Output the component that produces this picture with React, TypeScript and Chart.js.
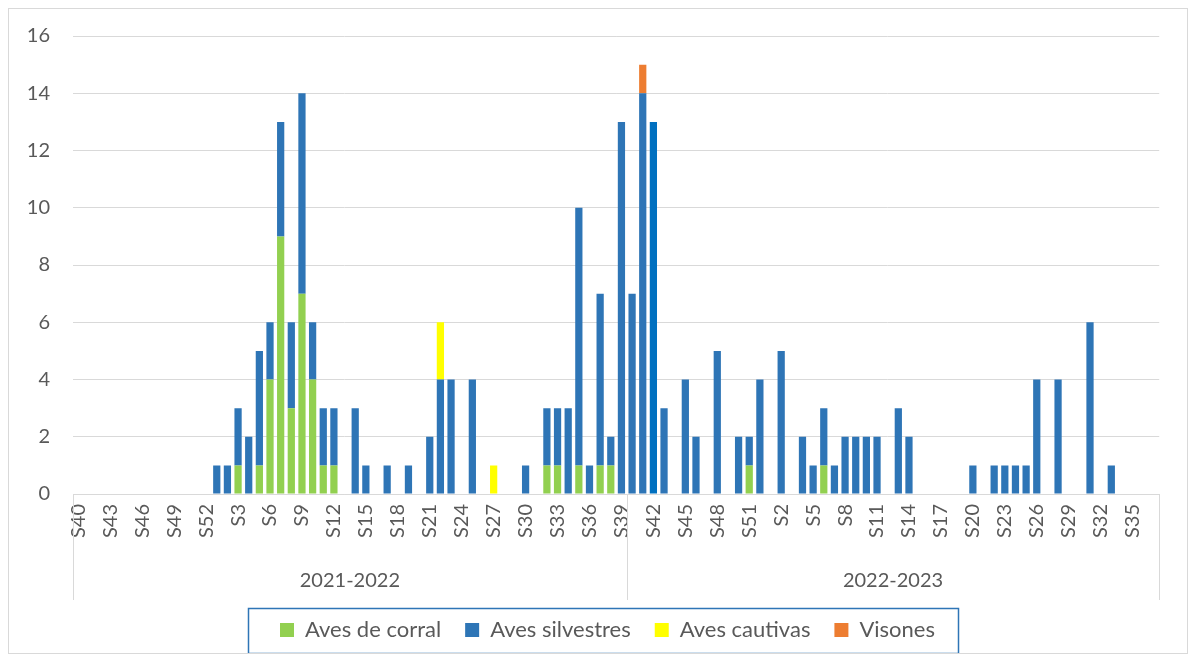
import React, { useEffect, useRef } from 'react';
import { Chart, registerables } from 'chart.js';

Chart.register(...registerables);

const seasons = ['2021-2022', '2022-2023'];

const weeks2122 = [
  'S40', 'S41', 'S42', 'S43', 'S44', 'S45', 'S46', 'S47', 'S48', 'S49', 'S50', 'S51', 'S52',
  'S1', 'S2', 'S3', 'S4', 'S5', 'S6', 'S7', 'S8', 'S9', 'S10', 'S11', 'S12', 'S13',
  'S14', 'S15', 'S16', 'S17', 'S18', 'S19', 'S20', 'S21', 'S22', 'S23', 'S24', 'S25', 'S26',
  'S27', 'S28', 'S29', 'S30', 'S31', 'S32', 'S33', 'S34', 'S35', 'S36', 'S37', 'S38', 'S39',
];
const weeks2223 = [
  'S40', 'S41', 'S42', 'S43', 'S44', 'S45', 'S46', 'S47', 'S48', 'S49', 'S50', 'S51', 'S52',
  'S1', 'S2', 'S3', 'S4', 'S5', 'S6', 'S7', 'S8', 'S9', 'S10', 'S11', 'S12', 'S13',
  'S14', 'S15', 'S16', 'S17', 'S18', 'S19', 'S20', 'S21', 'S22', 'S23', 'S24', 'S25', 'S26',
  'S27', 'S28', 'S29', 'S30', 'S31', 'S32', 'S33', 'S34', 'S35', 'S36', 'S37',
];
const categories = [...weeks2122, ...weeks2223];

// Aves de corral
const corral2122 = [
  0, 0, 0, 0, 0, 0, 0, 0, 0, 0, 0, 0, 0,
  0, 0, 1, 0, 1, 4, 9, 3, 7, 4, 1, 1, 0,
  0, 0, 0, 0, 0, 0, 0, 0, 0, 0, 0, 0, 0,
  0, 0, 0, 0, 0, 1, 1, 0, 1, 0, 1, 1, 0,
];
const corral2223 = [
  0, 0, 0, 0, 0, 0, 0, 0, 0, 0, 0, 1, 0,
  0, 0, 0, 0, 0, 1, 0, 0, 0, 0, 0, 0, 0,
  0, 0, 0, 0, 0, 0, 0, 0, 0, 0, 0, 0, 0,
  0, 0, 0, 0, 0, 0, 0, 0, 0, 0, 0,
];

// Aves silvestres
const silvestres2122 = [
  0, 0, 0, 0, 0, 0, 0, 0, 0, 0, 0, 0, 0,
  1, 1, 2, 2, 4, 2, 4, 3, 7, 2, 2, 2, 0,
  3, 1, 0, 1, 0, 1, 0, 2, 4, 4, 0, 4, 0,
  0, 0, 0, 1, 0, 2, 2, 3, 9, 1, 6, 1, 13,
];
const silvestres2223 = [
  7, 14, 13, 3, 0, 4, 2, 0, 5, 0, 2, 1, 4,
  0, 5, 0, 2, 1, 2, 1, 2, 2, 2, 2, 0, 3,
  2, 0, 0, 0, 0, 0, 1, 0, 1, 1, 1, 1, 4,
  0, 4, 0, 0, 6, 0, 1, 0, 0, 0, 0,
];

// Aves cautivas
const cautivas2122 = [
  0, 0, 0, 0, 0, 0, 0, 0, 0, 0, 0, 0, 0,
  0, 0, 0, 0, 0, 0, 0, 0, 0, 0, 0, 0, 0,
  0, 0, 0, 0, 0, 0, 0, 0, 2, 0, 0, 0, 0,
  1, 0, 0, 0, 0, 0, 0, 0, 0, 0, 0, 0, 0,
];
const cautivas2223 = [
  0, 0, 0, 0, 0, 0, 0, 0, 0, 0, 0, 0, 0,
  0, 0, 0, 0, 0, 0, 0, 0, 0, 0, 0, 0, 0,
  0, 0, 0, 0, 0, 0, 0, 0, 0, 0, 0, 0, 0,
  0, 0, 0, 0, 0, 0, 0, 0, 0, 0, 0,
];

// Visones
const visones2122 = [
  0, 0, 0, 0, 0, 0, 0, 0, 0, 0, 0, 0, 0,
  0, 0, 0, 0, 0, 0, 0, 0, 0, 0, 0, 0, 0,
  0, 0, 0, 0, 0, 0, 0, 0, 0, 0, 0, 0, 0,
  0, 0, 0, 0, 0, 0, 0, 0, 0, 0, 0, 0, 0,
];
const visones2223 = [
  0, 1, 0, 0, 0, 0, 0, 0, 0, 0, 0, 0, 0,
  0, 0, 0, 0, 0, 0, 0, 0, 0, 0, 0, 0, 0,
  0, 0, 0, 0, 0, 0, 0, 0, 0, 0, 0, 0, 0,
  0, 0, 0, 0, 0, 0, 0, 0, 0, 0, 0,
];

const seriesNames = ['Aves de corral', 'Aves silvestres', 'Aves cautivas', 'Visones'];
const yTicks = { min: 0, max: 16, step: 2 };

// the one bar of the 2022-2023 season painted in a darker blue (S42)
const highlightIndex = weeks2122.length + weeks2223.indexOf('S42');

const TEXT = '#595959';
const GRID = '#d9d9d9';
const LEGEND_SHIFT = 14;

const decorPlugin = {
  id: 'decor',
  afterLayout(chart: any) {
    const lg = chart.legend;
    if (lg) {
      lg.left += LEGEND_SHIFT;
      lg.right += LEGEND_SHIFT;
    }
  },
  afterDraw(chart: any) {
    const { ctx, chartArea, scales } = chart;
    const xs = scales.x;
    const n1 = weeks2122.length;
    const left = chartArea.left;
    const right = chartArea.right;
    const boundary = (xs.getPixelForValue(n1 - 1) + xs.getPixelForValue(n1)) / 2;
    const bottom = chartArea.bottom;
    ctx.save();
    ctx.strokeStyle = GRID;
    ctx.lineWidth = 1;
    [left, boundary, right].forEach((px: number) => {
      const x = Math.round(px) + 0.5;
      ctx.beginPath();
      ctx.moveTo(x, bottom);
      ctx.lineTo(x, bottom + 106);
      ctx.stroke();
    });
    ctx.fillStyle = TEXT;
    ctx.font = '20px Lato, sans-serif';
    ctx.textAlign = 'center';
    ctx.textBaseline = 'middle';
    ctx.fillText(seasons[0], (left + boundary) / 2, bottom + 87);
    ctx.fillText(seasons[1], (boundary + right) / 2, bottom + 87);

    const boxes = chart.legend && chart.legend.legendHitBoxes;
    if (boxes && boxes.length) {
      const first = boxes[0];
      const last = boxes[boxes.length - 1];
      const cy = first.top + first.height / 2;
      const bx = Math.round(first.left - 32) + 0.5;
      const bw = Math.round(last.left + last.width + 24 - bx);
      ctx.strokeStyle = '#2e75b6';
      ctx.lineWidth = 1.5;
      ctx.strokeRect(bx, Math.round(cy - 22.5) + 0.5, bw, 45);
    }

    ctx.strokeStyle = GRID;
    ctx.lineWidth = 1;
    ctx.strokeRect(0.5, 0.5, chart.width - 1, chart.height - 1);
    ctx.restore();
  },
};

export default function App() {
  const canvasRef = useRef<HTMLCanvasElement | null>(null);

  useEffect(() => {
    if (!canvasRef.current) return;
    Chart.defaults.font.family = "Lato, 'Noto Sans', sans-serif";
    const chart = new Chart(canvasRef.current, {
      type: 'bar',
      data: {
        labels: categories,
        datasets: [
          {
            label: seriesNames[0],
            data: [...corral2122, ...corral2223],
            backgroundColor: '#92d050',
            borderWidth: 0,
          },
          {
            label: seriesNames[1],
            data: [...silvestres2122, ...silvestres2223],
            backgroundColor: (c: any) => (c.dataIndex === highlightIndex ? '#0070c0' : '#2e75b6'),
            borderWidth: 0,
          },
          {
            label: seriesNames[2],
            data: [...cautivas2122, ...cautivas2223],
            backgroundColor: '#ffff00',
            borderWidth: 0,
          },
          {
            label: seriesNames[3],
            data: [...visones2122, ...visones2223],
            backgroundColor: '#ed7d31',
            borderWidth: 0,
          },
        ],
      },
      options: {
        responsive: false,
        animation: false,
        devicePixelRatio: 1,
        datasets: { bar: { barPercentage: 0.68, categoryPercentage: 1 } },
        layout: { padding: { left: 10, right: 19, top: 20, bottom: 3 } },
        scales: {
          x: {
            stacked: true,
            grid: { display: false, drawTicks: false },
            border: { display: true, color: GRID },
            ticks: {
              autoSkip: false,
              minRotation: 90,
              maxRotation: 90,
              padding: 10,
              color: TEXT,
              font: { size: 20 },
              callback: (_v: any, i: number) => (i % 3 === 0 ? categories[i] : ''),
            },
            afterFit: (s: any) => {
              s.height = 101;
            },
          },
          y: {
            stacked: true,
            min: yTicks.min,
            max: yTicks.max,
            ticks: {
              stepSize: yTicks.step,
              color: TEXT,
              font: { size: 20, lineHeight: 0.5 },
              padding: 23,
            },
            grid: { color: GRID, drawTicks: false },
            border: { display: false },
            afterFit: (s: any) => {
              s.width = 55;
            },
          },
        },
        plugins: {
          legend: {
            position: 'bottom',
            labels: {
              boxWidth: 14,
              boxHeight: 14,
              padding: 24,
              color: TEXT,
              font: { size: 22 },
            },
          },
          tooltip: { enabled: false },
        },
      },
      plugins: [decorPlugin],
    });
    return () => chart.destroy();
  }, []);

  return (
    <div style={{ width: 1180, height: 646 }}>
      <canvas ref={canvasRef} width={1180} height={646} style={{ display: 'block' }} />
    </div>
  );
}
